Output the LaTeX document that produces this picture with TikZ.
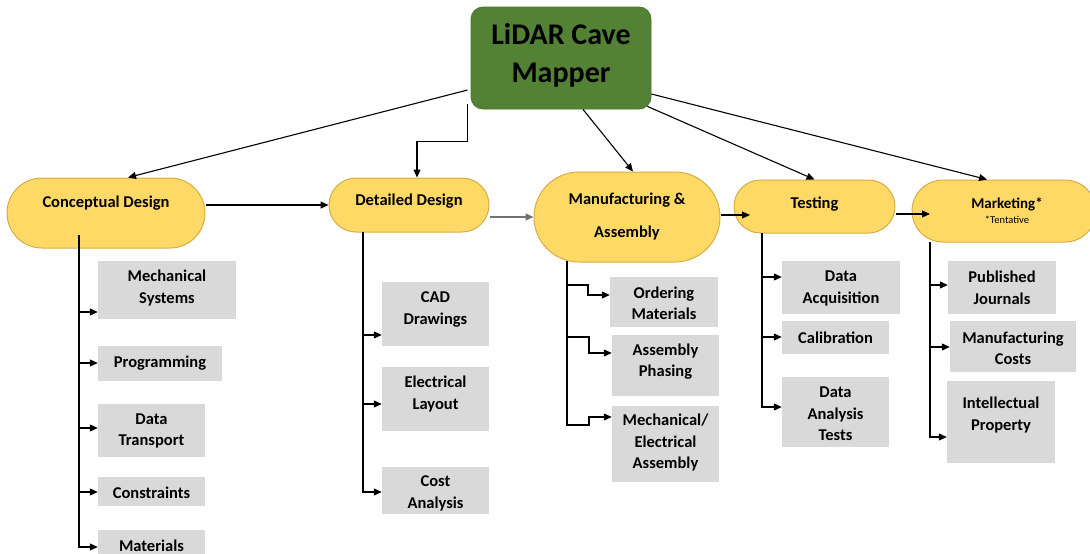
\documentclass[tikz,border=0pt]{standalone}
\usepackage{fontspec}
\setmainfont{Carlito}
\usetikzlibrary{arrows.meta,calc,shapes.misc}
\definecolor{rootgreen}{HTML}{548235}
\definecolor{rootedge}{HTML}{4A742E}
\definecolor{pillfill}{HTML}{FFD966}
\definecolor{pilledge}{HTML}{D4AE45}
\definecolor{boxgray}{HTML}{D9D9D9}
\newcommand\pillbox[5]{%
  \node[pill, minimum width={#4-#2}, minimum height={#5-#3}] (#1) at ({(#2+#4)/2},{(#3+#5)/2}) {};}
\newcommand\graybox[7]{%
  \node[gbx, minimum width={#4-#2}, minimum height={#5-#3}] (#1) at ({(#2+#4)/2},{(#3+#5)/2}) {};
  \node[lbl] (#1t) at ({(#2+#4)/2},#6) {#7};}
\begin{document}
\begin{tikzpicture}[x=1pt,y=-1pt,
  pill/.style={rounded rectangle, fill=pillfill, draw=pilledge, line width=1pt, inner sep=0pt},
  gbx/.style={rectangle, fill=boxgray, inner sep=0pt},
  lbl/.style={font=\bfseries\fontsize{16.5}{21.5}\selectfont, align=center, inner sep=0pt},
  conn/.style={line width=1.1pt, black},
  arr/.style={conn, -{Triangle[length=8pt,width=7pt]}},
]
\useasboundingbox (0,0) rectangle (1090,554);

% root
\node[rectangle, rounded corners=12pt, fill=rootgreen, draw=rootedge, line width=0.8pt,
      minimum width=180, minimum height=102, inner sep=0pt] (root) at (561,58) {};
\node[font=\bfseries\fontsize{30}{38}\selectfont, align=center, inner sep=0pt] (roott) at (561,55) {LiDAR Cave\\Mapper};

% main phases
\pillbox{cd}{7}{178}{205}{248}
\node[lbl] (cdt) at (106,203) {Conceptual Design};
\pillbox{dd}{329}{178}{489}{232}
\node[lbl] (ddt) at (409,201) {Detailed Design};
\pillbox{mf}{534}{172}{720}{262}
\node[lbl] (mft) at (627,217) {Manufacturing \&\\[11.5pt]Assembly};
\pillbox{ts}{734}{180}{895}{233}
\node[lbl] (tst) at (814.5,204) {Testing};
\pillbox{mk}{912}{180}{1096}{242}
\node[lbl, font=\bfseries\fontsize{15}{18}\selectfont] (mkt) at (1007,204) {Marketing*};
\node[font=\fontsize{10.5}{12}\selectfont, inner sep=0pt] (mkn) at (1007,219.5) {*Tentative};

% children
\graybox{c1}{98}{261}{236}{319}{288}{Mechanical\\Systems}
\graybox{c2}{98}{346}{222}{381}{363}{Programming}
\graybox{c3}{98}{404}{205}{457}{431}{Data\\Transport}
\graybox{c4}{98}{477}{205}{506}{492.5}{Constraints}
\graybox{c5}{98}{530}{205}{572}{545.5}{Materials}

\graybox{d1}{382}{282}{489}{346}{309.5}{CAD\\Drawings}
\graybox{d2}{382}{367}{489}{431}{394}{Electrical\\Layout}
\graybox{d3}{382}{467}{489}{514}{493.5}{Cost\\Analysis}

\graybox{m1}{610}{277}{718}{327}{303.5}{Ordering\\Materials}
\graybox{m2}{612}{335}{719}{396}{361.5}{Assembly\\Phasing}
\graybox{m3}{612}{406}{719}{482}{443}{Mechanical/\\Electrical\\Assembly}

\graybox{t1}{782}{261}{900}{314}{288.5}{Data\\Acquisition}
\graybox{t2}{782}{321}{889}{354}{337.5}{Calibration}
\graybox{t3}{782}{377}{889}{447}{414}{Data\\Analysis\\Tests}

\graybox{k1}{948}{261}{1056}{314}{288}{Published\\Journals}
\graybox{k2}{950}{321}{1076}{372}{348.5}{Manufacturing\\Costs}
\graybox{k3}{947}{381}{1055}{463}{415}{Intellectual\\Property}

% root connectors
\draw[arr] ($(root.west)+(-3,32)$) -- ($(cd.north)+(22,0)$);
\draw[arr] ($(root.south west)+(-3,-5)$) |- ($(dd.north)+(8,-36)$) -- ($(dd.north)+(8,0)$);
\draw[arr] ($(root.south)+(22,0)$) -- ($(mf.north)+(6,0)$);
\draw[arr] ($(root.south east)+(-4,-3)$) -- (ts.north);
\draw[arr] ($(root.east)+(0,36)$) -- ($(mk.north)+(-17,0)$);

% phase chain
\coordinate (tsin) at (750,215);
\coordinate (mkin) at (930,214);
\draw[arr] (cd.east |- dd.west) -- (dd.west);
\draw[arr, draw=black!55] (dd.east |- mf.west) -- (mf.west);
\draw[arr] (mf.east |- tsin) -- (tsin);
\draw[arr] (ts.east |- mkin) -- (mkin);

% conceptual branches
\coordinate (cdtr) at (79,235);
\draw[arr] (cdtr) |- (c5.west |- 0,547);
\draw[arr] (cdtr |- 0,312) -- (c1.west |- 0,312);
\draw[arr] (cdtr |- 0,363) -- (c2.west |- 0,363);
\draw[arr] (cdtr |- 0,428) -- (c3.west |- 0,428);
\draw[arr] (cdtr |- 0,492) -- (c4.west |- 0,492);

% detailed branches
\coordinate (ddtr) at (363,232);
\draw[arr] (ddtr) |- (d3.west |- 0,492);
\draw[arr] (ddtr |- 0,335) -- (d1.west |- 0,335);
\draw[arr] (ddtr |- 0,404) -- (d2.west |- 0,404);

% manufacturing branches
\coordinate (mftr) at (567,261);
\draw[arr] (mftr) -- (mftr |- 0,425) -- ++(22,0) |- (m3.west |- 0,417);
\draw[arr] (mftr |- 0,285) -- ++(21,0) |- (m1.west |- 0,295);
\draw[arr] (mftr |- 0,337) -- ++(22,0) |- (m2.west |- 0,353);

% testing branches
\coordinate (tstr) at (762,233);
\draw[arr] (tstr) |- (t3.west |- 0,407);
\draw[arr] (tstr |- 0,277) -- (t1.west |- 0,277);
\draw[arr] (tstr |- 0,337) -- (t2.west |- 0,337);

% marketing branches
\coordinate (mktr) at (930,242);
\draw[arr] (mktr) |- (k3.west |- 0,437);
\draw[arr] (mktr |- 0,285) -- (k1.west |- 0,285);
\draw[arr] (mktr |- 0,347) -- (k2.west |- 0,347);
\end{tikzpicture}
\end{document}
